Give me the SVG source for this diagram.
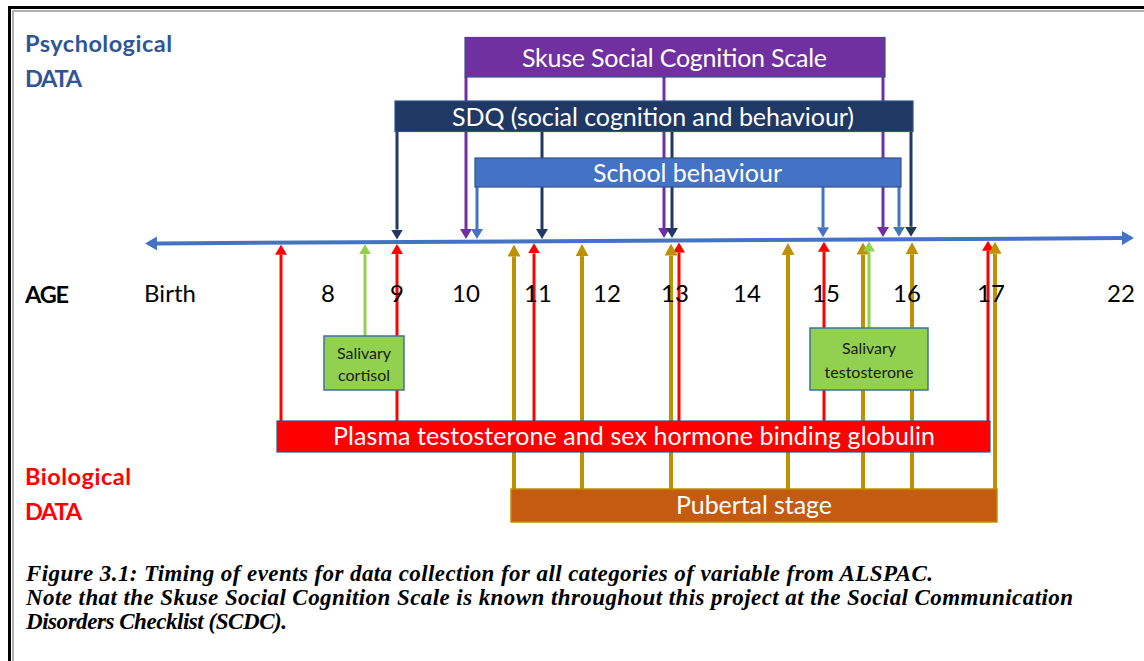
<svg xmlns="http://www.w3.org/2000/svg" width="1144" height="661" viewBox="0 0 1144 661">
<style>
.t{font-family:Lato,"Liberation Sans",Arial,sans-serif}
.box{stroke:#2F528F;stroke-width:1.2}
.lbl{fill:#fff;font-size:25px;text-anchor:middle}
.age{fill:#000;font-size:24px;text-anchor:middle}
.head{font-size:23.5px;font-weight:bold}
.sal{fill:#1a1a1a;font-size:16px;text-anchor:middle}
.cap{font-family:"Liberation Serif","Times New Roman",serif;font-style:italic;font-weight:bold;font-size:23px;fill:#000}
.navy{stroke:#203864;stroke-width:3;fill:none}
.purple{stroke:#7030A0;stroke-width:3;fill:none}
.blue{stroke:#4472C4;stroke-width:3;fill:none}
.red{stroke:#FF0000;stroke-width:3;fill:none}
.gold{stroke:#BF9000;stroke-width:4;fill:none}
.green{stroke:#92D050;stroke-width:3;fill:none}
</style>
<defs>
<marker id="mNavy" markerUnits="userSpaceOnUse" markerWidth="10" markerHeight="12" viewBox="0 0 10 12" refX="0" refY="6" orient="auto"><path d="M0,0 L10,6 L0,12 z" fill="#203864"/></marker>
<marker id="mPurple" markerUnits="userSpaceOnUse" markerWidth="10" markerHeight="12" viewBox="0 0 10 12" refX="0" refY="6" orient="auto"><path d="M0,0 L10,6 L0,12 z" fill="#7030A0"/></marker>
<marker id="mBlue" markerUnits="userSpaceOnUse" markerWidth="10" markerHeight="12" viewBox="0 0 10 12" refX="0" refY="6" orient="auto"><path d="M0,0 L10,6 L0,12 z" fill="#4472C4"/></marker>
<marker id="mRed" markerUnits="userSpaceOnUse" markerWidth="10" markerHeight="12" viewBox="0 0 10 12" refX="0" refY="6" orient="auto"><path d="M0,0 L10,6 L0,12 z" fill="#FF0000"/></marker>
<marker id="mGold" markerUnits="userSpaceOnUse" markerWidth="12" markerHeight="13" viewBox="0 0 12 13" refX="0" refY="6.5" orient="auto"><path d="M0,0 L12,6.5 L0,13 z" fill="#BF9000"/></marker>
<marker id="mGreen" markerUnits="userSpaceOnUse" markerWidth="10" markerHeight="12" viewBox="0 0 10 12" refX="0" refY="6" orient="auto"><path d="M0,0 L10,6 L0,12 z" fill="#92D050"/></marker>
<marker id="mAxis" markerUnits="userSpaceOnUse" markerWidth="12" markerHeight="14" viewBox="0 0 12 14" refX="0" refY="7" orient="auto-start-reverse"><path d="M0,0 L12,7 L0,14 z" fill="#4472C4"/></marker>
</defs>
<rect width="1144" height="661" fill="#fff"/>
<path d="M13,661 V11 H1144" fill="none" stroke="#b0b0b0" stroke-width="2"/>
<path d="M9.5,661 V7.5 H1144" fill="none" stroke="#000" stroke-width="3"/>

<g id="connectors">
<line x1="157" y1="243.4" x2="1122" y2="238.1" stroke="#4472C4" stroke-width="4" marker-start="url(#mAxis)" marker-end="url(#mAxis)"/>
<line class="purple" x1="466" y1="77" x2="466" y2="229" marker-end="url(#mPurple)"/>
<line class="purple" x1="664" y1="77" x2="664" y2="228" marker-end="url(#mPurple)"/>
<line class="purple" x1="883" y1="77" x2="883" y2="227" marker-end="url(#mPurple)"/>
<line class="navy" x1="397" y1="131" x2="397" y2="229.5" marker-end="url(#mNavy)"/>
<line class="navy" x1="542" y1="131" x2="542" y2="229" marker-end="url(#mNavy)"/>
<line class="navy" x1="672" y1="131" x2="672" y2="228" marker-end="url(#mNavy)"/>
<line class="navy" x1="911" y1="131" x2="911" y2="226.7" marker-end="url(#mNavy)"/>
<line class="blue" x1="477" y1="187" x2="477" y2="229" marker-end="url(#mBlue)"/>
<line class="blue" x1="823" y1="187" x2="823" y2="227.2" marker-end="url(#mBlue)"/>
<line class="blue" x1="899" y1="187" x2="899" y2="226.8" marker-end="url(#mBlue)"/>
<line class="red" x1="281" y1="421" x2="281" y2="254.7" marker-end="url(#mRed)"/>
<line class="red" x1="397" y1="421" x2="397" y2="254.1" marker-end="url(#mRed)"/>
<line class="red" x1="534" y1="421" x2="534" y2="253.3" marker-end="url(#mRed)"/>
<line class="red" x1="679" y1="421" x2="679" y2="252.5" marker-end="url(#mRed)"/>
<line class="red" x1="824" y1="421" x2="824" y2="251.7" marker-end="url(#mRed)"/>
<line class="red" x1="988" y1="421" x2="988" y2="250.8" marker-end="url(#mRed)"/>
<line class="gold" x1="514" y1="489" x2="514" y2="256.5" marker-end="url(#mGold)"/>
<line class="gold" x1="582" y1="489" x2="582" y2="256.1" marker-end="url(#mGold)"/>
<line class="gold" x1="671" y1="489" x2="671" y2="255.6" marker-end="url(#mGold)"/>
<line class="gold" x1="788" y1="489" x2="788" y2="254.9" marker-end="url(#mGold)"/>
<line class="gold" x1="863" y1="489" x2="863" y2="254.5" marker-end="url(#mGold)"/>
<line class="gold" x1="912" y1="489" x2="912" y2="254.2" marker-end="url(#mGold)"/>
<line class="gold" x1="995" y1="489" x2="995" y2="253.8" marker-end="url(#mGold)"/>
<line class="green" x1="365" y1="336" x2="365" y2="254.3" marker-end="url(#mGreen)"/>
<line class="green" x1="869" y1="328" x2="869" y2="251.5" marker-end="url(#mGreen)"/>
</g>

<g id="labels" class="t">
<text class="head" x="25" y="52" fill="#2F5597" textLength="147">Psychological</text>
<text class="head" x="25" y="87" fill="#2F5597" textLength="57">DATA</text>
<text class="head" x="25" y="485" fill="#FF0000" textLength="106">Biological</text>
<text class="head" x="25" y="520" fill="#FF0000" textLength="57">DATA</text>
<text x="25" y="303" font-size="23.5" font-weight="bold" fill="#000" textLength="44">AGE</text>
<text x="144" y="302" font-size="24" fill="#000" textLength="52">Birth</text>
<text class="age" x="328" y="302">8</text>
<text class="age" x="397" y="302">9</text>
<text class="age" x="466" y="302">10</text>
<text class="age" x="538" y="302">11</text>
<text class="age" x="607" y="302">12</text>
<text class="age" x="675" y="302">13</text>
<text class="age" x="747" y="302">14</text>
<text class="age" x="826" y="302">15</text>
<text class="age" x="907" y="302">16</text>
<text class="age" x="991" y="302">17</text>
<text class="age" x="1121" y="302">22</text>
</g>

<g id="node-skuse">
<rect class="box" x="465" y="37.5" width="420" height="39.5" fill="#7030A0"/>
<text class="t lbl" x="674.5" y="67" textLength="305">Skuse Social Cognition Scale</text>
</g>
<g id="node-sdq">
<rect class="box" x="395" y="101" width="518" height="30.5" fill="#203864"/>
<text class="t lbl" x="653" y="126" textLength="402">SDQ (social cognition and behaviour)</text>
</g>
<g id="node-school">
<rect class="box" x="475" y="158" width="426" height="29" fill="#4472C4"/>
<text class="t lbl" x="687.5" y="182" textLength="189">School behaviour</text>
</g>
<g id="node-cortisol">
<rect x="324" y="336" width="80" height="54" fill="#92D050" stroke="#41719C" stroke-width="1.5"/>
<text class="t sal" x="364" y="359">Salivary</text>
<text class="t sal" x="364" y="381">cortisol</text>
</g>
<g id="node-testosterone">
<rect x="810" y="328" width="118" height="62" fill="#92D050" stroke="#41719C" stroke-width="1.5"/>
<text class="t sal" x="869" y="354">Salivary</text>
<text class="t sal" x="869" y="378">testosterone</text>
</g>
<g id="node-plasma">
<rect class="box" x="277" y="421" width="713" height="31" fill="#FF0000"/>
<text class="t lbl" x="634" y="445" textLength="602">Plasma testosterone and sex hormone binding globulin</text>
</g>
<g id="node-pubertal">
<rect x="511" y="489" width="486" height="33" fill="#C55A11" stroke="#BF9000" stroke-width="1.5"/>
<text class="t lbl" x="754" y="514" textLength="156">Pubertal stage</text>
</g>

<g id="caption">
<text class="cap" x="26" y="581" textLength="907">Figure 3.1: Timing of events for data collection for all categories of variable from ALSPAC.</text>
<text class="cap" x="26" y="605" textLength="1047">Note that the Skuse Social Cognition Scale is known throughout this project at the Social Communication</text>
<text class="cap" x="26" y="629" textLength="261">Disorders Checklist (SCDC).</text>
</g>
</svg>
